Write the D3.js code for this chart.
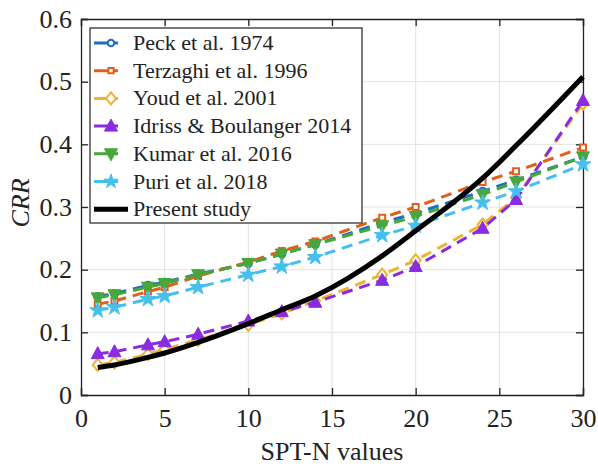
<!DOCTYPE html>
<html>
<head>
<meta charset="utf-8">
<script src="https://cdn.jsdelivr.net/npm/d3@7"></script>
</head>
<body style="margin:0">
<script>
var w = 598;
var h = 466;
var serifFont = "'Liberation Serif', 'Tinos', 'Nimbus Roman', 'FreeSerif'";

// SPT-N values where the curves are sampled
var spt = [1, 2, 4, 5, 7, 10, 12, 14, 18, 20, 24, 26, 30];

var peck     = [0.157, 0.162, 0.175, 0.180, 0.193, 0.210, 0.225, 0.240, 0.275, 0.290, 0.325, 0.343, 0.380];
var terzaghi = [0.145, 0.150, 0.165, 0.172, 0.190, 0.212, 0.230, 0.245, 0.283, 0.300, 0.340, 0.357, 0.395];
var youd     = [0.048, 0.052, 0.065, 0.073, 0.088, 0.112, 0.130, 0.150, 0.192, 0.215, 0.272, 0.315, 0.465];
var idriss   = [0.066, 0.069, 0.080, 0.085, 0.097, 0.118, 0.133, 0.148, 0.183, 0.205, 0.266, 0.312, 0.470];
var kumar    = [0.155, 0.160, 0.172, 0.178, 0.192, 0.210, 0.225, 0.240, 0.270, 0.285, 0.320, 0.340, 0.380];
var puri     = [0.135, 0.140, 0.153, 0.158, 0.172, 0.192, 0.205, 0.220, 0.255, 0.270, 0.307, 0.325, 0.368];
var present  = [0.044, 0.048, 0.060, 0.067, 0.084, 0.114, 0.136, 0.158, 0.222, 0.262, 0.346, 0.398, 0.508];

var names = ["Peck et al. 1974", "Terzaghi et al. 1996", "Youd et al. 2001",
             "Idriss & Boulanger 2014", "Kumar et al. 2016", "Puri et al. 2018", "Present study"];

var xTicks = [0, 5, 10, 15, 20, 25, 30];
var yTicks = [0, 0.1, 0.2, 0.3, 0.4, 0.5, 0.6];

var series = [
  { name: names[0], vals: peck,     color: "#1f6fbf", sym: "circle",   fill: false },
  { name: names[1], vals: terzaghi, color: "#e0601a", sym: "square",   fill: false },
  { name: names[2], vals: youd,     color: "#f0b232", sym: "diamond",  fill: false },
  { name: names[3], vals: idriss,   color: "#8b2be0", sym: "triangle", fill: true },
  { name: names[4], vals: kumar,    color: "#46a83a", sym: "tridown",  fill: true },
  { name: names[5], vals: puri,     color: "#45c0ee", sym: "star",     fill: true },
  { name: names[6], vals: present,  color: "#000000", sym: null,       fill: false }
];

var pLeft = 81, pRight = 583, pTop = 19, pBottom = 395;

var svg = d3.select("body").append("svg")
  .attr("width", w)
  .attr("height", h);

var xScale = d3.scaleLinear().domain([0, 30]).range([pLeft, pRight]);
var yScale = d3.scaleLinear().domain([0, 0.6]).range([pBottom, pTop]);

// grid
svg.append("g").selectAll("line").data(xTicks.slice(1, -1)).enter().append("line")
  .attr("x1", function(d) { return xScale(d); })
  .attr("x2", function(d) { return xScale(d); })
  .attr("y1", pTop).attr("y2", pBottom)
  .attr("stroke", "#e3e3e3").attr("stroke-width", 1);
svg.append("g").selectAll("line").data(yTicks.slice(1, -1)).enter().append("line")
  .attr("y1", function(d) { return yScale(d); })
  .attr("y2", function(d) { return yScale(d); })
  .attr("x1", pLeft).attr("x2", pRight)
  .attr("stroke", "#e3e3e3").attr("stroke-width", 1);

// axes (ticks inward)
var xAxis = d3.axisBottom(xScale).tickValues(xTicks).tickSize(-7).tickPadding(14).tickFormat(d3.format("d"));
var yAxis = d3.axisLeft(yScale).tickValues(yTicks).tickSize(-7).tickPadding(9)
  .tickFormat(function(d) { return d === 0 ? "0" : d3.format(".1f")(d); });
var xTop = d3.axisTop(xScale).tickValues(xTicks).tickSize(-7).tickFormat("");
var yRight = d3.axisRight(yScale).tickValues(yTicks).tickSize(-7).tickFormat("");

function styleAxis(g) {
  g.attr("font-family", null).attr("font-size", null);
  g.select(".domain").attr("stroke", "#222").attr("stroke-width", 1.3);
  g.selectAll(".tick line").attr("stroke", "#222").attr("stroke-width", 1.3);
  g.selectAll(".tick text")
    .attr("class", "lbl")
    .attr("font-size", 26)
    .attr("fill", "#222");
}

svg.append("g").attr("transform", "translate(0," + pBottom + ")").call(xAxis).call(styleAxis);
svg.append("g").attr("transform", "translate(" + pLeft + ",0)").call(yAxis).call(styleAxis);
svg.append("g").attr("transform", "translate(0," + pTop + ")").call(xTop).call(styleAxis);
svg.append("g").attr("transform", "translate(" + pRight + ",0)").call(yRight).call(styleAxis);

// marker shapes
function marker(sel, s, size) {
  var path;
  if (s.sym === "circle") path = d3.symbol(d3.symbolCircle, size * 0.8)();
  else if (s.sym === "square") path = d3.symbol(d3.symbolSquare, size * 0.7)();
  else if (s.sym === "diamond") path = "M0,-6L5,0L0,6L-5,0Z";
  else if (s.sym === "triangle") path = "M0,-7L6.5,5L-6.5,5Z";
  else if (s.sym === "tridown") path = "M0,7L6.5,-5L-6.5,-5Z";
  else if (s.sym === "star") path = d3.symbol(d3.symbolStar, size * 1.6)();
  sel.append("path")
    .attr("d", path)
    .attr("fill", s.fill ? s.color : "#fff")
    .attr("stroke", s.color)
    .attr("stroke-width", s.fill ? 1 : 2);
}

var line = d3.line()
  .x(function(d) { return xScale(d[0]); })
  .y(function(d) { return yScale(d[1]); });
var smooth = d3.line()
  .curve(d3.curveMonotoneX)
  .x(function(d) { return xScale(d[0]); })
  .y(function(d) { return yScale(d[1]); });

var plot = svg.append("g");
series.forEach(function(s) {
  var pts = spt.map(function(n, i) { return [n, s.vals[i]]; });
  if (!s.sym) {
    plot.append("path").datum(pts).attr("d", smooth)
      .attr("fill", "none").attr("stroke", "#000").attr("stroke-width", 5);
    return;
  }
  plot.append("path").datum(pts).attr("d", line)
    .attr("fill", "none").attr("stroke", s.color).attr("stroke-width", 3)
    .attr("stroke-dasharray", "11,7");
  plot.selectAll(null).data(pts).enter().append("g")
    .attr("transform", function(d) { return "translate(" + xScale(d[0]) + "," + yScale(d[1]) + ")"; })
    .each(function() { marker(d3.select(this), s, 50); });
});

// legend
var lg = svg.append("g");
lg.append("rect")
  .attr("x", 90).attr("y", 28).attr("width", 272).attr("height", 195)
  .attr("fill", "#fff").attr("stroke", "#222").attr("stroke-width", 1.2);
series.forEach(function(s, i) {
  var y = 43 + i * 27.7;
  var row = lg.append("g");
  if (s.sym) {
    row.append("line").attr("x1", 94).attr("x2", 128).attr("y1", y).attr("y2", y)
      .attr("stroke", s.color).attr("stroke-width", 3).attr("stroke-dasharray", "14,4,6");
    var m = row.append("g").attr("transform", "translate(111," + y + ")");
    marker(m, s, 40);
  } else {
    row.append("line").attr("x1", 94).attr("x2", 128).attr("y1", y).attr("y2", y)
      .attr("stroke", "#000").attr("stroke-width", 5);
  }
  row.append("text").attr("class", "lbl").attr("x", 133).attr("y", y + 7)
    .attr("font-size", 22)
    .attr("fill", "#222").text(s.name);
});

// axis titles
svg.append("text").attr("class", "lbl")
  .attr("x", (pLeft + pRight) / 2).attr("y", 460)
  .attr("text-anchor", "middle").attr("fill", "#222")
  .attr("font-size", 26)
  .text("SPT-N values");

svg.append("text").attr("class", "lbl")
  .attr("transform", "rotate(-90)")
  .attr("x", -203).attr("y", 29)
  .attr("text-anchor", "middle").attr("fill", "#222")
  .attr("font-size", 26).attr("font-style", "italic")
  .text("CRR");

svg.selectAll("text").style("font-family", serifFont);
if (document.fonts) {
  document.fonts.load("22px 'Liberation Serif'").then(function() {
    svg.selectAll("text").style("font-family", serifFont);
  });
}
</script>
</body>
</html>
